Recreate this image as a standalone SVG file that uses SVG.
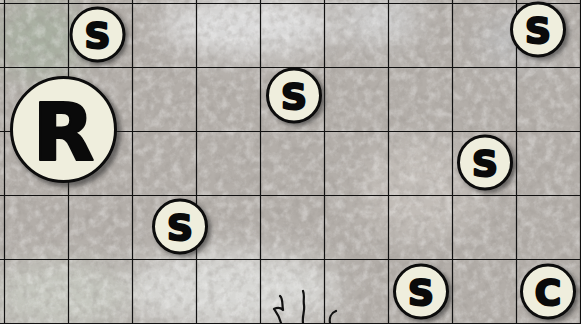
<svg xmlns="http://www.w3.org/2000/svg" width="581" height="324" viewBox="0 0 581 324">
<style>
.grid line{stroke:#111;stroke-width:1.2}
.tok{fill:#efeedd;stroke:#0c0c0c;stroke-width:3}
.sh{fill:#222;opacity:0.55;filter:url(#blur)}
.lt{font-family:"DejaVu Sans",sans-serif;font-weight:bold;fill:#0a0a0a;stroke:#0a0a0a;stroke-width:2.2;stroke-linejoin:round;text-anchor:middle;dominant-baseline:central}
</style>
<defs>
<filter id="blur" x="-20%" y="-20%" width="140%" height="140%"><feGaussianBlur stdDeviation="2"/></filter>
<filter id="soft" x="-50%" y="-50%" width="200%" height="200%"><feGaussianBlur stdDeviation="14"/></filter>
<filter id="noise" x="0" y="0" width="100%" height="100%">
<feTurbulence type="fractalNoise" baseFrequency="0.11" numOctaves="4" seed="4"/>
<feColorMatrix type="matrix" values="0 0 0 0 1  0 0 0 0 1  0 0 0 0 1  2.5 0 0 0 -1.05"/>
</filter>
<filter id="noise2" x="0" y="0" width="100%" height="100%">
<feTurbulence type="fractalNoise" baseFrequency="0.13" numOctaves="3" seed="9"/>
<feColorMatrix type="matrix" values="0 0 0 0 0.3  0 0 0 0 0.28  0 0 0 0 0.26  2.5 0 0 0 -1.1"/>
</filter>
</defs>
<g id="background">
<rect width="581" height="324" fill="#b3aea9"/>
<ellipse cx="40" cy="40" rx="45" ry="40" fill="#a9b0a2" filter="url(#soft)"/>
<ellipse cx="250" cy="25" rx="90" ry="30" fill="#dcdcdc" filter="url(#soft)"/>
<ellipse cx="380" cy="20" rx="40" ry="25" fill="#cfcfcf" filter="url(#soft)"/>
<ellipse cx="520" cy="40" rx="40" ry="25" fill="#bdbdbd" filter="url(#soft)"/>
<ellipse cx="230" cy="290" rx="110" ry="40" fill="#d7d7d4" filter="url(#soft)"/>
<ellipse cx="60" cy="295" rx="70" ry="35" fill="#c6c8c0" filter="url(#soft)"/>
<ellipse cx="420" cy="190" rx="60" ry="50" fill="#c2bdb8" filter="url(#soft)"/>
<rect width="581" height="324" filter="url(#noise)" opacity="0.3"/>
<rect width="581" height="324" filter="url(#noise2)" opacity="0.3"/>
<g fill="none" stroke="#111" stroke-width="2.2" stroke-linecap="round">
<path d="M281 323 C279 315 276 312 274 309 M274 309 C278 307 281 308 283 310 M283 310 C282 304 283 298 280 296"/>
<path d="M303 323 C302 315 305 312 304 305 C303 300 305 296 303 291"/>
<path d="M330 323 C329 318 331 313 336 311"/>
</g>
</g>
<g class="grid">
<line x1="4.5" y1="0" x2="4.5" y2="324"/>
<line x1="68.5" y1="0" x2="68.5" y2="324"/>
<line x1="132.5" y1="0" x2="132.5" y2="324"/>
<line x1="196.5" y1="0" x2="196.5" y2="324"/>
<line x1="260.5" y1="0" x2="260.5" y2="324"/>
<line x1="324.5" y1="0" x2="324.5" y2="324"/>
<line x1="388.5" y1="0" x2="388.5" y2="324"/>
<line x1="452.5" y1="0" x2="452.5" y2="324"/>
<line x1="516.5" y1="0" x2="516.5" y2="324"/>
<line x1="580.5" y1="0" x2="580.5" y2="324"/>
<line x1="0" y1="3.5" x2="581" y2="3.5"/>
<line x1="0" y1="67.5" x2="581" y2="67.5"/>
<line x1="0" y1="131.5" x2="581" y2="131.5"/>
<line x1="0" y1="195.5" x2="581" y2="195.5"/>
<line x1="0" y1="259.5" x2="581" y2="259.5"/>
<line x1="0" y1="323.5" x2="581" y2="323.5"/>
</g>
<g id="token-R">
<circle class="sh" cx="67" cy="133" r="54"/>
<circle class="tok" cx="63.5" cy="129.5" r="52" stroke-width="4"/>
<text class="lt" x="63.5" y="132" font-size="80" stroke-width="4">R</text>
</g>
<g id="token-s1">
<circle class="sh" cx="100" cy="37" r="28"/>
<circle class="tok" cx="97.5" cy="34.5" r="26.5"/>
<text class="lt" x="97.5" y="35.5" font-size="36">S</text>
</g>
<g id="token-s2">
<circle class="sh" cx="297" cy="98" r="28"/>
<circle class="tok" cx="294" cy="95.5" r="26.5"/>
<text class="lt" x="294" y="96.5" font-size="36">S</text>
</g>
<g id="token-s3">
<circle class="sh" cx="541" cy="32" r="28"/>
<circle class="tok" cx="538" cy="29.5" r="26.5"/>
<text class="lt" x="538" y="30.5" font-size="36">S</text>
</g>
<g id="token-s4">
<circle class="sh" cx="488" cy="165" r="28"/>
<circle class="tok" cx="485" cy="162.5" r="26.5"/>
<text class="lt" x="485" y="163.5" font-size="36">S</text>
</g>
<g id="token-s5">
<circle class="sh" cx="183" cy="229" r="28"/>
<circle class="tok" cx="180" cy="226.5" r="26.5"/>
<text class="lt" x="180" y="227.5" font-size="36">S</text>
</g>
<g id="token-s6">
<circle class="sh" cx="424" cy="294" r="28"/>
<circle class="tok" cx="421" cy="291.5" r="26.5"/>
<text class="lt" x="421" y="292.5" font-size="36">S</text>
</g>
<g id="token-c">
<circle class="sh" cx="551" cy="294" r="28"/>
<circle class="tok" cx="548" cy="291.5" r="26.5"/>
<text class="lt" x="548" y="292.5" font-size="36">C</text>
</g>
</svg>
